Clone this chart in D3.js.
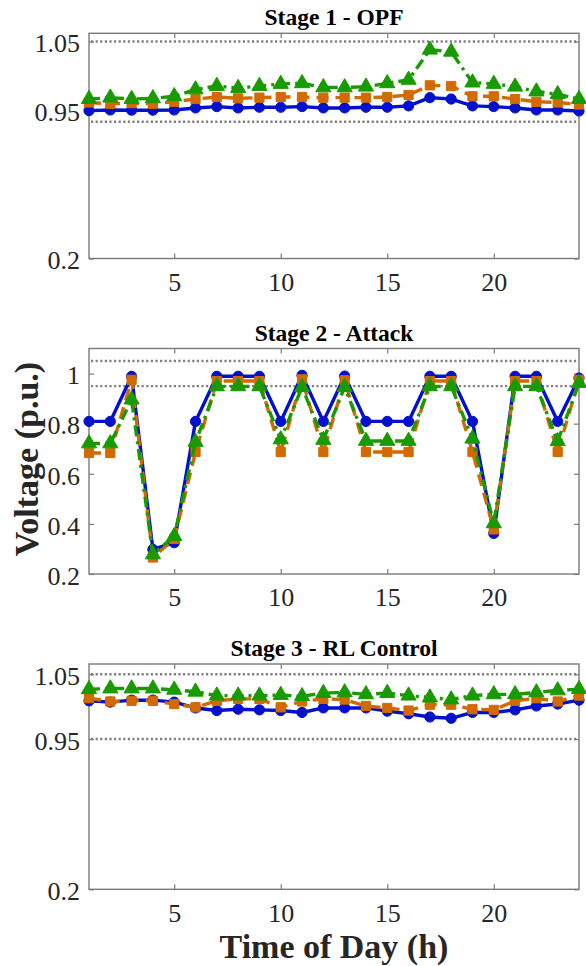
<!DOCTYPE html>
<html>
<head>
<meta charset="utf-8">
<script src="https://cdn.jsdelivr.net/npm/d3@7"></script>
<style>
  html, body { margin: 0; padding: 0; background: #fff; }
  svg { display: block; }
</style>
</head>
<body>
<svg id="chart" width="586" height="966"></svg>
<script>
// ---------------- DATA ----------------
const hours = [1,2,3,4,5,6,7,8,9,10,11,12,13,14,15,16,17,18,19,20,21,22,23,24];
const xTicks = [5, 10, 15, 20];
const stageTitles = ["Stage 1 - OPF", "Stage 2 - Attack", "Stage 3 - RL Control"];

// Stage 1 - OPF
const opfBlue   = [0.947,0.950,0.949,0.949,0.950,0.953,0.955,0.953,0.954,0.954,0.955,0.953,0.953,0.954,0.954,0.956,0.968,0.966,0.956,0.955,0.953,0.950,0.950,0.945];
const opfOrange = [0.961,0.959,0.960,0.959,0.962,0.966,0.969,0.967,0.968,0.969,0.969,0.968,0.968,0.968,0.969,0.972,0.986,0.985,0.970,0.970,0.966,0.962,0.961,0.958];
const opfGreen  = [0.966,0.968,0.966,0.967,0.970,0.980,0.985,0.982,0.985,0.988,0.989,0.983,0.983,0.984,0.989,0.994,1.038,1.035,0.990,0.988,0.984,0.977,0.973,0.966];

// Stage 2 - Attack
const attackBlue   = [0.809,0.809,0.989,0.298,0.325,0.809,0.989,0.989,0.989,0.809,0.993,0.809,0.990,0.809,0.809,0.809,0.989,0.989,0.809,0.362,0.989,0.989,0.809,0.982];
const attackOrange = [0.683,0.683,0.975,0.266,0.340,0.687,0.970,0.970,0.970,0.687,0.977,0.687,0.973,0.687,0.687,0.687,0.970,0.970,0.687,0.378,0.970,0.970,0.687,0.975];
const attackGreen  = [0.721,0.721,0.896,0.278,0.351,0.727,0.949,0.949,0.949,0.737,0.946,0.735,0.946,0.731,0.731,0.731,0.949,0.949,0.740,0.402,0.949,0.949,0.730,0.962];

// Stage 3 - RL Control
const rlBlue   = [1.009,1.007,1.010,1.010,1.007,0.998,0.994,0.996,0.995,0.994,0.991,0.998,0.998,0.998,0.993,0.989,0.984,0.982,0.991,0.991,0.995,1.001,1.004,1.010];
const rlOrange = [1.013,1.008,1.009,1.009,1.004,0.999,1.009,1.012,1.012,0.999,1.008,1.012,1.011,1.001,0.998,0.994,1.003,1.003,0.996,0.995,1.009,1.013,1.008,1.017];
const rlGreen  = [1.027,1.028,1.028,1.028,1.026,1.023,1.017,1.017,1.017,1.018,1.016,1.021,1.022,1.019,1.021,1.017,1.014,1.011,1.017,1.019,1.019,1.022,1.025,1.027];

// y-axis tick values / labels per panel
const yTicks1 = [0.2, 0.95, 1.05];
const yTickLabels1 = ["0.2", "0.95", "1.05"];
const yTicks2 = [0.2, 0.4, 0.6, 0.8, 1];
const yTickLabels2 = ["0.2", "0.4", "0.6", "0.8", "1"];
const yTicks3 = [0.2, 0.95, 1.05];
const yTickLabels3 = ["0.2", "0.95", "1.05"];

// voltage limit guide lines per panel
const limits1 = [0.891, 1.05];
const limits2 = [0.95, 1.05];
const limits3 = [0.95, 1.05];

// ---------------- LAYOUT ----------------
const svg = d3.select("#chart");
const FONT = "'Liberation Serif', 'Times New Roman', Times, serif";
const left = 89, right = 579;

const x = d3.scaleLinear().domain([1, 24]).range([left, right]);

const panels = [
  { title: stageTitles[0], top: 33.3, bottom: 258.5,
    y: d3.scaleLinear().domain([0.2, 0.95, 1.05, 1.062]).range([258.5, 110, 41.5, 33.3]),
    ticks: yTicks1, labels: yTickLabels1, limits: limits1,
    series: [opfBlue, opfOrange, opfGreen] },
  { title: stageTitles[1], top: 348.5, bottom: 574,
    y: d3.scaleLinear().domain([0.2, 1.1]).range([574, 348.5]),
    ticks: yTicks2, labels: yTickLabels2, limits: limits2,
    series: [attackBlue, attackOrange, attackGreen] },
  { title: stageTitles[2], top: 664, bottom: 889.3,
    y: d3.scaleLinear().domain([0.2, 0.95, 1.05, 1.066]).range([889.3, 739, 674.3, 664]),
    ticks: yTicks3, labels: yTickLabels3, limits: limits3,
    series: [rlBlue, rlOrange, rlGreen] }
];

const styles = [
  { color: "#0010CC", dash: null,        symbol: d3.symbolCircle,   size: 82 },
  { color: "#D26A00", dash: "12,7",      symbol: d3.symbolSquare,   size: 85 },
  { color: "#189A00", dash: "11,5,3,5",  symbol: d3.symbolTriangle, size: 100 }
];

const AXIS_COLOR = "#7a7a7a";
const TEXT_COLOR = "#262626";

panels.forEach((p, pi) => {
  const g = svg.append("g");
  const y = p.y;

  // limit guide lines (dotted)
  g.selectAll("line.limit").data(p.limits).enter().append("line")
    .attr("x1", left + 2).attr("x2", right - 2)
    .attr("y1", d => y(d)).attr("y2", d => y(d))
    .attr("stroke", "#808080").attr("stroke-width", 2.4)
    .attr("stroke-dasharray", "2.2,2.4");

  // box
  g.append("rect")
    .attr("x", left).attr("y", p.top)
    .attr("width", right - left).attr("height", p.bottom - p.top)
    .attr("fill", "none").attr("stroke", AXIS_COLOR).attr("stroke-width", 1.4);

  // bottom axis
  const bx = g.append("g").attr("transform", `translate(0,${p.bottom})`)
    .call(d3.axisBottom(x).tickValues(xTicks).tickSize(-5).tickSizeOuter(0).tickPadding(14).tickFormat(d3.format("d")));
  // top axis (ticks only)
  const tx = g.append("g").attr("transform", `translate(0,${p.top})`)
    .call(d3.axisTop(x).tickValues(xTicks).tickSize(-5).tickSizeOuter(0).tickFormat(""));
  // left axis
  const ly = g.append("g").attr("transform", `translate(${left},0)`)
    .call(d3.axisLeft(y).tickValues(p.ticks).tickSize(-5).tickSizeOuter(0).tickPadding(9)
      .tickFormat((d, i) => p.labels[i]));
  // right axis (ticks only)
  const ry = g.append("g").attr("transform", `translate(${right},0)`)
    .call(d3.axisRight(y).tickValues(p.ticks).tickSize(-5).tickSizeOuter(0).tickFormat(""));

  [bx, tx, ly, ry].forEach(a => {
    a.select(".domain").remove();
    a.selectAll(".tick line").attr("stroke", AXIS_COLOR).attr("stroke-width", 1.2);
    a.selectAll(".tick text").attr("font-family", FONT).attr("font-size", 26).attr("fill", TEXT_COLOR);
  });
  ly.selectAll(".tick text").attr("transform", "translate(0,2)");

  // title
  g.append("text")
    .attr("x", (left + right) / 2).attr("y", p.top - 8)
    .attr("text-anchor", "middle")
    .attr("font-family", FONT).attr("font-weight", "bold").attr("font-size", 23.5)
    .attr("fill", "#000")
    .text(p.title);

  // series
  p.series.forEach((vals, si) => {
    const st = styles[si];
    const line = d3.line().x((d, i) => x(hours[i])).y(d => y(d));
    g.append("path").datum(vals)
      .attr("d", line)
      .attr("fill", "none")
      .attr("stroke", st.color)
      .attr("stroke-width", 3.4)
      .attr("stroke-linejoin", "round")
      .attr("stroke-dasharray", st.dash);
    g.selectAll(null).data(vals).enter().append("path")
      .attr("d", d3.symbol().type(st.symbol).size(st.size))
      .attr("transform", (d, i) => `translate(${x(hours[i])},${y(d)})`)
      .attr("fill", st.color)
      .attr("stroke", st.color)
      .attr("stroke-width", 1);
  });
});

// axis labels
svg.append("text")
  .attr("transform", "translate(38,459) rotate(-90)")
  .attr("text-anchor", "middle")
  .attr("font-family", FONT).attr("font-weight", "bold").attr("font-size", 34)
  .attr("fill", TEXT_COLOR)
  .text("Voltage (p.u.)");

svg.append("text")
  .attr("x", (left + right) / 2).attr("y", 958)
  .attr("text-anchor", "middle")
  .attr("font-family", FONT).attr("font-weight", "bold").attr("font-size", 34)
  .attr("fill", TEXT_COLOR)
  .text("Time of Day (h)");
</script>
</body>
</html>
